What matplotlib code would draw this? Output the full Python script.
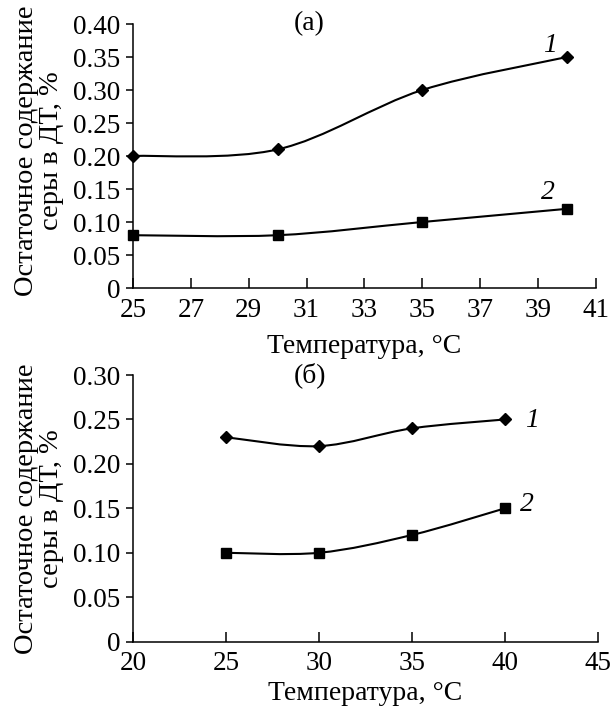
import numpy as np
import matplotlib
matplotlib.use('Agg')
import matplotlib.pyplot as plt
from matplotlib.path import Path
from matplotlib.patches import PathPatch

plt.rcParams['font.family'] = ['Liberation Serif', 'DejaVu Serif']

# data
temp_a = [25, 30, 35, 40]
s1_a = [0.20, 0.21, 0.30, 0.35]
s2_a = [0.08, 0.08, 0.10, 0.12]

temp_b = [25, 30, 35, 40]
s1_b = [0.23, 0.22, 0.24, 0.25]
s2_b = [0.10, 0.10, 0.12, 0.15]

xticks_a = np.arange(25, 42, 2)
xticks_b = np.arange(20, 46, 5)
yticks_a = np.arange(0, 0.41, 0.05)
yticks_b = np.arange(0, 0.31, 0.05)

ylabel = 'Остаточное содержание\nсеры в ДТ, %'
xlabel = 'Температура, °С'


def smooth_path(x, y):
    # Excel-style smoothed line (Catmull-Rom as cubic Bezier)
    p = np.column_stack([x, y]).astype(float)
    ext = np.vstack([p[0], p, p[-1]])
    verts = [p[0]]
    codes = [Path.MOVETO]
    for i in range(len(p) - 1):
        p0, p1, p2, p3 = ext[i], ext[i + 1], ext[i + 2], ext[i + 3]
        verts += [p1 + (p2 - p0) / 6, p2 - (p3 - p1) / 6, p2]
        codes += [Path.CURVE4] * 3
    return Path(verts, codes)


def draw_series(ax, x, y, marker, ms):
    ax.add_patch(PathPatch(smooth_path(x, y), facecolor='none',
                           edgecolor='black', lw=1.5, zorder=2))
    ax.plot(x, y, linestyle='none', marker=marker, ms=ms, color='black',
            zorder=3, clip_on=False)


def style_axes(ax):
    ax.spines['top'].set_visible(False)
    ax.spines['right'].set_visible(False)
    for s in ['left', 'bottom']:
        ax.spines[s].set_linewidth(1.1)
    ax.tick_params(axis='x', direction='in', length=7, width=1.1, labelsize=19.5, pad=7)
    ax.tick_params(axis='y', direction='out', length=5, width=1.1, labelsize=19.5, pad=4)
    ax.set_yticklabels(['0' if abs(v) < 1e-9 else f'{v:.2f}' for v in ax.get_yticks()])


fig = plt.figure(figsize=(6.1, 7.08), dpi=100)

ax1 = fig.add_axes([0.218, 0.5932, 0.759, 0.3729])
draw_series(ax1, temp_a, s1_a, 'D', 6.5)
draw_series(ax1, temp_a, s2_a, 's', 7.5)
ax1.set_xlim(25, 41)
ax1.set_ylim(0, 0.40)
ax1.set_xticks(xticks_a)
ax1.set_yticks(yticks_a)
style_axes(ax1)
ax1.set_xlabel(xlabel, fontsize=20, labelpad=8)
ax1.set_ylabel(ylabel, fontsize=20.5, linespacing=1.0)
ax1.yaxis.set_label_coords(-0.148, 0.52)
ax1.text(0.38, 1.0, '(а)', transform=ax1.transAxes, fontsize=20, ha='center', va='center')
ax1.text(39.4, 0.368, '1', style='italic', fontsize=20, ha='center', va='center')
ax1.text(39.35, 0.145, '2', style='italic', fontsize=20, ha='center', va='center')

ax2 = fig.add_axes([0.218, 0.0937, 0.762, 0.3766])
draw_series(ax2, temp_b, s1_b, 'D', 6.5)
draw_series(ax2, temp_b, s2_b, 's', 7.5)
ax2.set_xlim(20, 45)
ax2.set_ylim(0, 0.30)
ax2.set_xticks(xticks_b)
ax2.set_yticks(yticks_b)
style_axes(ax2)
ax2.set_xlabel(xlabel, fontsize=20, labelpad=3)
ax2.set_ylabel(ylabel, fontsize=20.5, linespacing=1.0)
ax2.yaxis.set_label_coords(-0.148, 0.5)
ax2.text(0.38, 1.0, '(б)', transform=ax2.transAxes, fontsize=20, ha='center', va='center')
ax2.text(41.45, 0.249, '1', style='italic', fontsize=20, ha='center', va='center')
ax2.text(41.2, 0.154, '2', style='italic', fontsize=20, ha='center', va='center')

fig.savefig('out.png', dpi=100)
